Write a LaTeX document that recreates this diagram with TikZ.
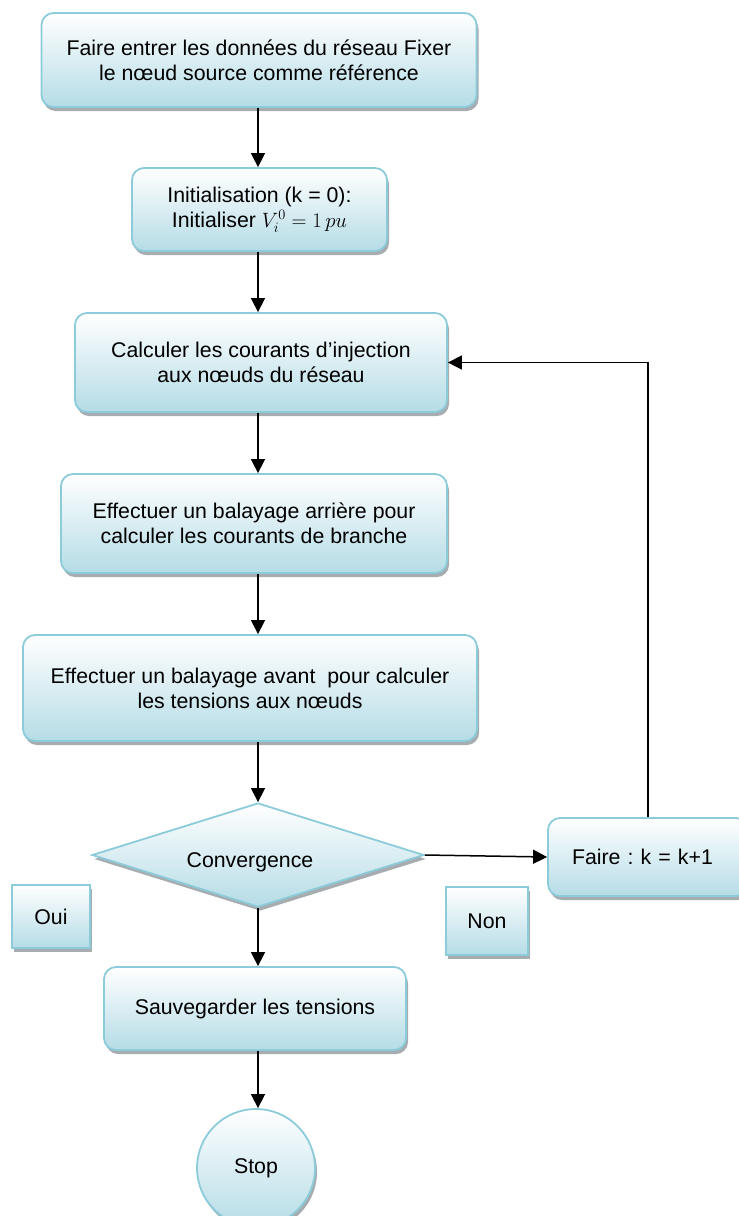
\documentclass[tikz,border=0pt]{standalone}
\usepackage{fontspec}
\setmainfont{Liberation Sans}
\usetikzlibrary{shapes.geometric,arrows.meta,shadows}
\definecolor{edgeblue}{RGB}{140,203,218}
\definecolor{fillblue}{RGB}{181,220,230}
\definecolor{shadowgray}{RGB}{150,158,162}
\frenchspacing

\begin{document}
\begin{tikzpicture}[x=1pt,y=-1pt,
  every node/.style={font=\fontsize{21.3}{25}\selectfont, text=black},
  flowshadow/.style={drop shadow={shadow xshift=2pt, shadow yshift=-4pt, fill=shadowgray, opacity=0.85}},
  flowbox/.style={draw=edgeblue, line width=1.8pt, rounded corners=12pt,
    top color=white, bottom color=fillblue, align=center, inner sep=0pt, flowshadow},
  tagbox/.style={flowbox, rounded corners=0pt},
  decision/.style={diamond, draw=edgeblue, line width=1.8pt, top color=white,
    bottom color=fillblue, inner sep=0pt, flowshadow},
  endpoint/.style={circle, draw=edgeblue, line width=1.8pt, top color=white,
    bottom color=fillblue, inner sep=0pt, flowshadow},
  arr/.style={line width=1.5pt, -{Triangle[length=14pt,width=14pt]}},
  link/.style={line width=1.5pt}
]
\useasboundingbox (0,0) rectangle (739,1216);

% main column
\coordinate (axis) at (258,0);
\node[flowbox, minimum width=435pt, minimum height=94pt] (b1) at (259,60)
  {Faire entrer les données du réseau Fixer\\le nœud source comme référence};
\node[flowbox, minimum width=255pt, minimum height=83pt] (b2) at (259.5,209.5)
  {Initialisation (k = 0):\\Initialiser $V_i^0 = 1\,pu$};
\node[flowbox, minimum width=372pt, minimum height=99pt] (b3) at (261,362.5)
  {Calculer les courants d’injection\\aux nœuds du réseau};
\node[flowbox, minimum width=386pt, minimum height=99pt] (b4) at (254,523.5)
  {Effectuer un balayage arrière pour\\calculer les courants de branche};
\node[flowbox, minimum width=454pt, minimum height=106pt] (b5) at (250,688)
  {Effectuer un balayage avant\ \ pour calculer\\les tensions aux nœuds};
\node[decision, minimum width=332pt, minimum height=104pt] (d) at (258,855) {};
\node (dl) at (250,862) {Convergence};
\node[flowbox, minimum width=302pt, minimum height=83pt] (s) at (255,1008.5)
  {Sauvegarder les tensions};
\node[endpoint, minimum size=118pt] (stop) at (256,1168) {Stop};

% loop-back branch
\node[flowbox, minimum width=200pt, minimum height=78pt, align=left,
  inner xsep=24pt, text width=152pt] (f) at (648,857) {Faire : k = k+1};

% answer tags
\node[tagbox, minimum width=78pt, minimum height=63pt] (oui) at (51,916.5) {Oui};
\node[tagbox, minimum width=82pt, minimum height=68pt] (non) at (487,921) {Non};

% connectors
\draw[arr] (b1.south -| axis) -- (b2.north -| axis);
\draw[arr] (b2.south -| axis) -- (b3.north -| axis);
\draw[arr] (b3.south -| axis) -- (b4.north -| axis);
\draw[arr] (b4.south -| axis) -- (b5.north -| axis);
\draw[arr] (b5.south -| axis) -- (d.north);
\draw[arr] (d.south) -- (s.north -| d.south);
\draw[arr] (s.south -| axis) -- (stop.north -| axis);
\draw[arr] (d.east) -- (f.west);
\draw[arr] (f.north) |- (b3.east);
\end{tikzpicture}
\end{document}
